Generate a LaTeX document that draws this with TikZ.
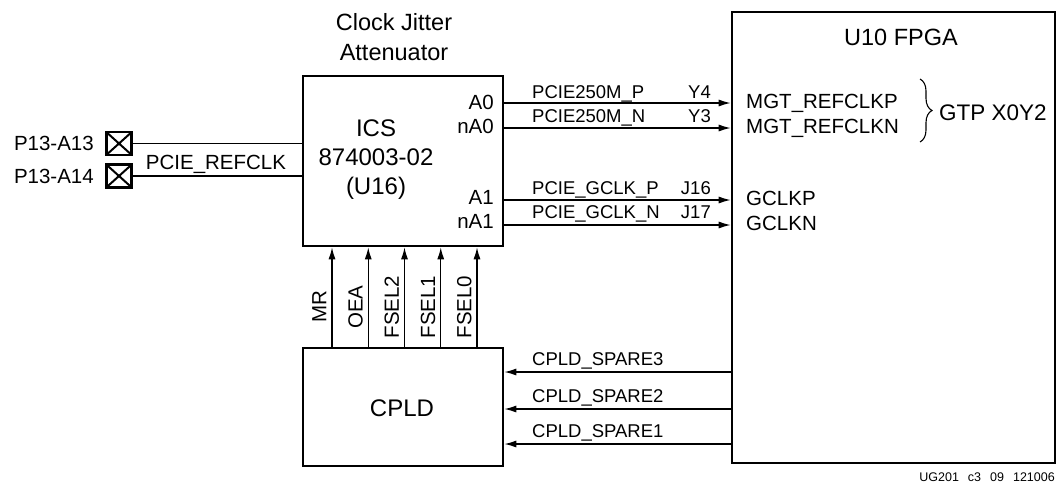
\documentclass[tikz,border=0pt]{standalone}
\usepackage{fontspec}
\setmainfont{Liberation Sans}
\usetikzlibrary{arrows.meta,decorations.pathreplacing}

\begin{document}
\begin{tikzpicture}[x=1pt, y=-1pt, >={Latex[length=12pt,width=7pt]},
    blk/.style={draw, line width=2.6pt, inner sep=0pt},
    wire/.style={line width=1.3pt},
    txt/.style={inner sep=0pt, text height=14.7pt, text depth=0pt, font=\fontsize{20.5}{24}\selectfont},
    net/.style={inner sep=0pt, text height=13.2pt, text depth=0pt, font=\fontsize{18.5}{22}\selectfont},
    ttl/.style={inner sep=0pt, align=center, font=\fontsize{23.5}{30}\selectfont},
    big/.style={inner sep=0pt, align=center, font=\fontsize{24}{29}\selectfont},
    xpin/.style={draw, line width=2.6pt, minimum width=25.5pt, minimum height=23pt, inner sep=0pt,
        path picture={\draw[line width=2pt] (path picture bounding box.north west) -- (path picture bounding box.south east)
            (path picture bounding box.south west) -- (path picture bounding box.north east);}}]
    \useasboundingbox (0,0) rectangle (1064,491);

    % Blocks
    \node[blk, minimum width=200pt, minimum height=170pt] (ics) at (403,161) {};
    \node[blk, minimum width=323pt, minimum height=451pt] (fpga) at (893.5,237.5) {};
    \node[blk, minimum width=200pt, minimum height=118pt] (cpld) at (403,407) {};

    \node[ttl] (icstitle) at (394,37) {Clock Jitter\\Attenuator};
    \node[big] (icsname) at (376,160) {ICS\\874003-02\\(U16)};
    \node[ttl] (fpganame) at (901,37) {U10 FPGA};
    \node[big] (cpldname) at (402,408) {CPLD};

    % Edge connector
    \node[xpin] (j13) at (119,143.5) {};
    \node[xpin] (j14) at (119,176) {};
    \node[txt, anchor=east] (lj13) at (94,143) {P13-A13};
    \node[txt, anchor=east] (lj14) at (94,176) {P13-A14};
    \draw[wire] (j13.east) -- (j13.east -| ics.west);
    \draw[wire] (j14.east) -- (j14.east -| ics.west);
    \node[txt] (refclk) at (216,162) {PCIE\_REFCLK};

    % Clock outputs
    \coordinate (a0) at (600,103);
    \coordinate (na0) at (600,128);
    \coordinate (a1) at (600,200);
    \coordinate (na1) at (600,225);
    \draw[wire,->] (ics.east |- a0) -- (fpga.west |- a0);
    \draw[wire,->] (ics.east |- na0) -- (fpga.west |- na0);
    \draw[wire,->] (ics.east |- a1) -- (fpga.west |- a1);
    \draw[wire,->] (ics.east |- na1) -- (fpga.west |- na1);

    \node[txt, anchor=east] (pa0) at (494,102) {A0};
    \node[txt, anchor=east] (pna0) at (494,126) {nA0};
    \node[txt, anchor=east] (pa1) at (494,197) {A1};
    \node[txt, anchor=east] (pna1) at (494,221) {nA1};

    \node[net, anchor=west] (n250p) at (532,92) {PCIE250M\_P};
    \node[net, anchor=west] (n250n) at (532,116) {PCIE250M\_N};
    \node[net, anchor=west] (ngclkp) at (532,188) {PCIE\_GCLK\_P};
    \node[net, anchor=west] (ngclkn) at (532,212) {PCIE\_GCLK\_N};
    \node[net, anchor=east] (y4) at (711,92) {Y4};
    \node[net, anchor=east] (y3) at (711,116) {Y3};
    \node[net, anchor=east] (j16) at (711,188) {J16};
    \node[net, anchor=east] (j17) at (711,212) {J17};

    \node[txt, anchor=west] (mgtp) at (746,101) {MGT\_REFCLKP};
    \node[txt, anchor=west] (mgtn) at (746,126) {MGT\_REFCLKN};
    \node[txt, anchor=west] (gclkp) at (746,198) {GCLKP};
    \node[txt, anchor=west] (gclkn) at (746,223) {GCLKN};
    \draw[line width=1.1pt, decorate, decoration={brace, amplitude=12pt}] (920,79) -- (920,142);
    \node[txt, anchor=west, text height=16.1pt, font=\fontsize{22.5}{27}\selectfont] (gtp) at (939,112) {GTP X0Y2};

    % Control lines
    \foreach \sig [count=\i, evaluate=\i as \xx using 332+36.25*(\i-1)] in {MR,OEA,FSEL2,FSEL1,FSEL0} {
        \coordinate (v\i) at (\xx,300);
        \draw[wire,->] (cpld.north -| v\i) -- (ics.south -| v\i);
        \node[txt, rotate=90] (lv\i) at (\xx-13,307) {\sig};
    }

    % Spare lines
    \foreach \k/\yy/\ly in {3/372/359, 2/409/396, 1/444/431} {
        \coordinate (s\k) at (600,\yy);
        \draw[wire,->] (fpga.west |- s\k) -- (cpld.east |- s\k);
        \node[net, anchor=west] (ls\k) at (532,\ly) {CPLD\_SPARE\k};
    }

    \node[inner sep=0pt, anchor=east, font=\fontsize{12.5}{15}\selectfont] (figid) at (1055,477)
        {UG201\hspace{9pt}c3\hspace{9pt}09\hspace{9pt}121006};
\end{tikzpicture}
\end{document}
